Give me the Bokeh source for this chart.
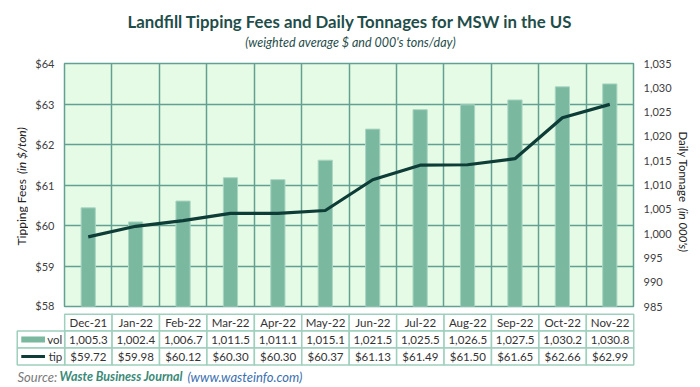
import math
from bokeh.plotting import figure
from bokeh.models import (Range1d, LinearAxis, FixedTicker, NumeralTickFormatter,
                          PrintfTickFormatter, FactorRange, ColumnDataSource, Label, Grid)
from bokeh.layouts import column, row
from bokeh.transform import dodge
from bokeh.core.properties import value
from bokeh.embed import file_html
from bokeh.resources import INLINE

# ---------------- data ----------------
categories = ["Dec-21", "Jan-22", "Feb-22", "Mar-22", "Apr-22", "May-22",
              "Jun-22", "Jul-22", "Aug-22", "Sep-22", "Oct-22", "Nov-22"]
vol = [1005.3, 1002.4, 1006.7, 1011.5, 1011.1, 1015.1,
       1021.5, 1025.5, 1026.5, 1027.5, 1030.2, 1030.8]
tip = [59.72, 59.98, 60.12, 60.30, 60.30, 60.37,
       61.13, 61.49, 61.50, 61.65, 62.66, 62.99]
tip_ticks = [58, 59, 60, 61, 62, 63, 64]
vol_ticks = [985, 990, 995, 1000, 1005, 1010, 1015, 1020, 1025, 1030, 1035]
series_names = ["vol", "tip"]

# ---------------- style ----------------
FONT = "Lato"
BG = "#e6fbe6"
GRID = "#62a092"
BAR = "#7ab8a0"
BAR_EDGE = "#a9d6c3"
LINE = "#0d3d36"
TEXT = "#404040"
TEAL = "#1f4e4a"
CELL = "#9fcfbd"
W = 696


def blank(width, height):
    f = figure(width=width, height=height, x_range=Range1d(0, 1), y_range=Range1d(0, 1),
               x_axis_location=None, y_axis_location=None,
               output_backend="svg", toolbar_location=None,
               min_border_left=0, min_border_right=0, min_border_top=0, min_border_bottom=0)
    f.frame_align = False
    f.outline_line_color = None
    f.background_fill_color = "white"
    f.border_fill_color = "white"
    for g in f.grid:
        g.visible = False
    return f


# ---------------- title block ----------------
h = blank(W, 50)
h.add_layout(Label(x=350, y=29, x_units="screen", y_units="screen",
                   text="Landfill Tipping Fees and Daily Tonnages for MSW in the US",
                   text_align="center", text_baseline="middle", text_font=FONT,
                   text_font_style="bold", text_font_size="16.8px", text_color=TEAL))
h.add_layout(Label(x=350, y=8, x_units="screen", y_units="screen",
                   text="(weighted average $ and 000's tons/day)",
                   text_align="center", text_baseline="middle", text_font=FONT,
                   text_font_style="italic", text_font_size="12.5px", text_color=TEAL))

# ---------------- axis title strips ----------------
ax_kw = dict(x_units="screen", y_units="screen", text_align="left", text_baseline="middle",
             text_font=FONT, text_color="#222222")
lft = blank(28, 261)
lft.add_layout(Label(x=21, y=66, angle=math.pi / 2, text="Tipping Fees",
                     text_font_size="12px", **ax_kw))
lft.add_layout(Label(x=21, y=137.5, angle=math.pi / 2, text="(in $/ton)",
                     text_font_style="italic", text_font_size="12px", **ax_kw))
rgt = blank(20, 261)
rgt.add_layout(Label(x=7, y=180, angle=-math.pi / 2, text="Daily Tonnage",
                     text_font_size="11.5px", **ax_kw))
rgt.add_layout(Label(x=7, y=103.5, angle=-math.pi / 2, text="(in 000's)",
                     text_font_style="italic", text_font_size="11.5px", **ax_kw))

# ---------------- main chart ----------------
src = ColumnDataSource(dict(cat=categories, vol=vol, tip=tip))

p = figure(width=W - 28 - 20, height=261,
           x_range=FactorRange(*categories),
           y_range=Range1d(tip_ticks[0], tip_ticks[-1]),
           x_axis_location=None,
           output_backend="svg", toolbar_location=None,
           min_border_left=36, min_border_right=43,
           min_border_top=13, min_border_bottom=5)
p.frame_align = False
p.extra_y_ranges = {"vol": Range1d(vol_ticks[0], vol_ticks[-1])}
p.background_fill_color = BG
p.border_fill_color = "white"
p.outline_line_color = GRID
p.outline_line_width = 1.5

for g in p.xgrid:
    g.visible = False
p.ygrid.grid_line_color = GRID
p.ygrid.grid_line_width = 1.5
p.add_layout(Grid(dimension=0, ticker=FixedTicker(ticks=list(range(1, len(categories)))),
                  grid_line_color=GRID, grid_line_width=1.5))

yl = p.yaxis[0]
yl.ticker = FixedTicker(ticks=tip_ticks)
yl.formatter = PrintfTickFormatter(format="$%d")

yr = LinearAxis(y_range_name="vol", ticker=FixedTicker(ticks=vol_ticks),
                formatter=NumeralTickFormatter(format="0,0"))
p.add_layout(yr, "right")

for ax in (yl, yr):
    ax.axis_line_color = None
    ax.major_tick_line_color = None
    ax.minor_tick_line_color = None
    ax.major_tick_out = 0
    ax.major_tick_in = 0
    ax.major_label_standoff = 10
    ax.major_label_text_font = FONT
    ax.major_label_text_font_size = "11px"
    ax.major_label_text_color = TEXT

p.vbar(x="cat", top="vol", bottom=vol_ticks[0], width=0.3, source=src,
       y_range_name="vol", fill_color=BAR, line_color=BAR_EDGE, line_width=1)
p.line(x="cat", y="tip", source=src, line_color=LINE, line_width=3.2)

# ---------------- data table ----------------
rows = ["src", "tip", "vol", "hdr"]
cols = ["leg"] + categories
t = figure(width=W, height=75,
           x_range=FactorRange(*cols, range_padding=0.1, range_padding_units="absolute"),
           y_range=FactorRange(*rows, range_padding=0.1, range_padding_units="absolute"),
           x_axis_location=None, y_axis_location=None,
           output_backend="svg", toolbar_location=None,
           min_border_left=12, min_border_right=58, min_border_top=1, min_border_bottom=3)
t.frame_align = False
t.outline_line_color = None
t.background_fill_color = "white"
t.border_fill_color = "white"
for g in t.grid:
    g.visible = False

hdr_src = ColumnDataSource(dict(x=categories, y=["hdr"] * len(categories), text=categories))
vol_src = ColumnDataSource(dict(x=categories, y=["vol"] * len(categories),
                                text=[f"{v:,.1f}" for v in vol]))
tip_src = ColumnDataSource(dict(x=categories, y=["tip"] * len(categories),
                                text=[f"${v:.2f}" for v in tip]))
leg_src = ColumnDataSource(dict(x=["leg", "leg"], y=series_names, text=series_names))

cell_kw = dict(width=1, height=1, fill_color="white", line_color=CELL, line_width=1.5)
t.rect(x="x", y="y", source=hdr_src, **cell_kw)
t.rect(x="x", y="y", source=vol_src, **cell_kw)
t.rect(x="x", y="y", source=tip_src, **cell_kw)
t.rect(x="x", y="y", source=leg_src, **cell_kw)

txt_kw = dict(text_align="center", text_baseline="middle", text_font=value(FONT),
              text_font_size="11.5px", text_color="#333333")
t.text(x="x", y="y", text="text", source=hdr_src, **txt_kw)
t.text(x="x", y="y", text="text", source=vol_src, **txt_kw)
t.text(x="x", y="y", text="text", source=tip_src, **txt_kw)

sw_vol = ColumnDataSource(dict(x=["leg"], y=["vol"]))
sw_tip = ColumnDataSource(dict(x=["leg"], y=["tip"]))
t.rect(x=dodge("x", -0.165, range=t.x_range), y="y", source=sw_vol,
       width=0.5, height=6, height_units="screen", fill_color=BAR, line_color=None)
t.rect(x=dodge("x", -0.165, range=t.x_range), y="y", source=sw_tip,
       width=0.5, height=3, height_units="screen", fill_color=LINE, line_color=None)
t.text(x=dodge("x", 0.45, range=t.x_range), y="y", text="text", source=leg_src,
       text_align="right", text_baseline="middle", text_font=value(FONT),
       text_font_size="11.5px", text_color="#333333")

# source line (inside the table frame, bottom row)
src_kw = dict(y=7, x_units="screen", y_units="screen", text_baseline="middle", text_font=FONT)
t.add_layout(Label(x=5, text="Source:", text_font_style="italic", text_font_size="13px",
                   text_color="#7a7a7a", **src_kw))
t.add_layout(Label(x=47, text="Waste Business Journal", text_font_style="bold italic",
                   text_font_size="12.5px", text_color="#3a8a78", **src_kw))
t.add_layout(Label(x=175, text="(www.wasteinfo.com)", text_font_style="italic",
                   text_font_size="13px", text_color="#3a6fb0", **src_kw))

layout = column(h, row(lft, p, rgt, spacing=0), t, spacing=0)
open("out.html", "w").write(file_html(layout, INLINE))
